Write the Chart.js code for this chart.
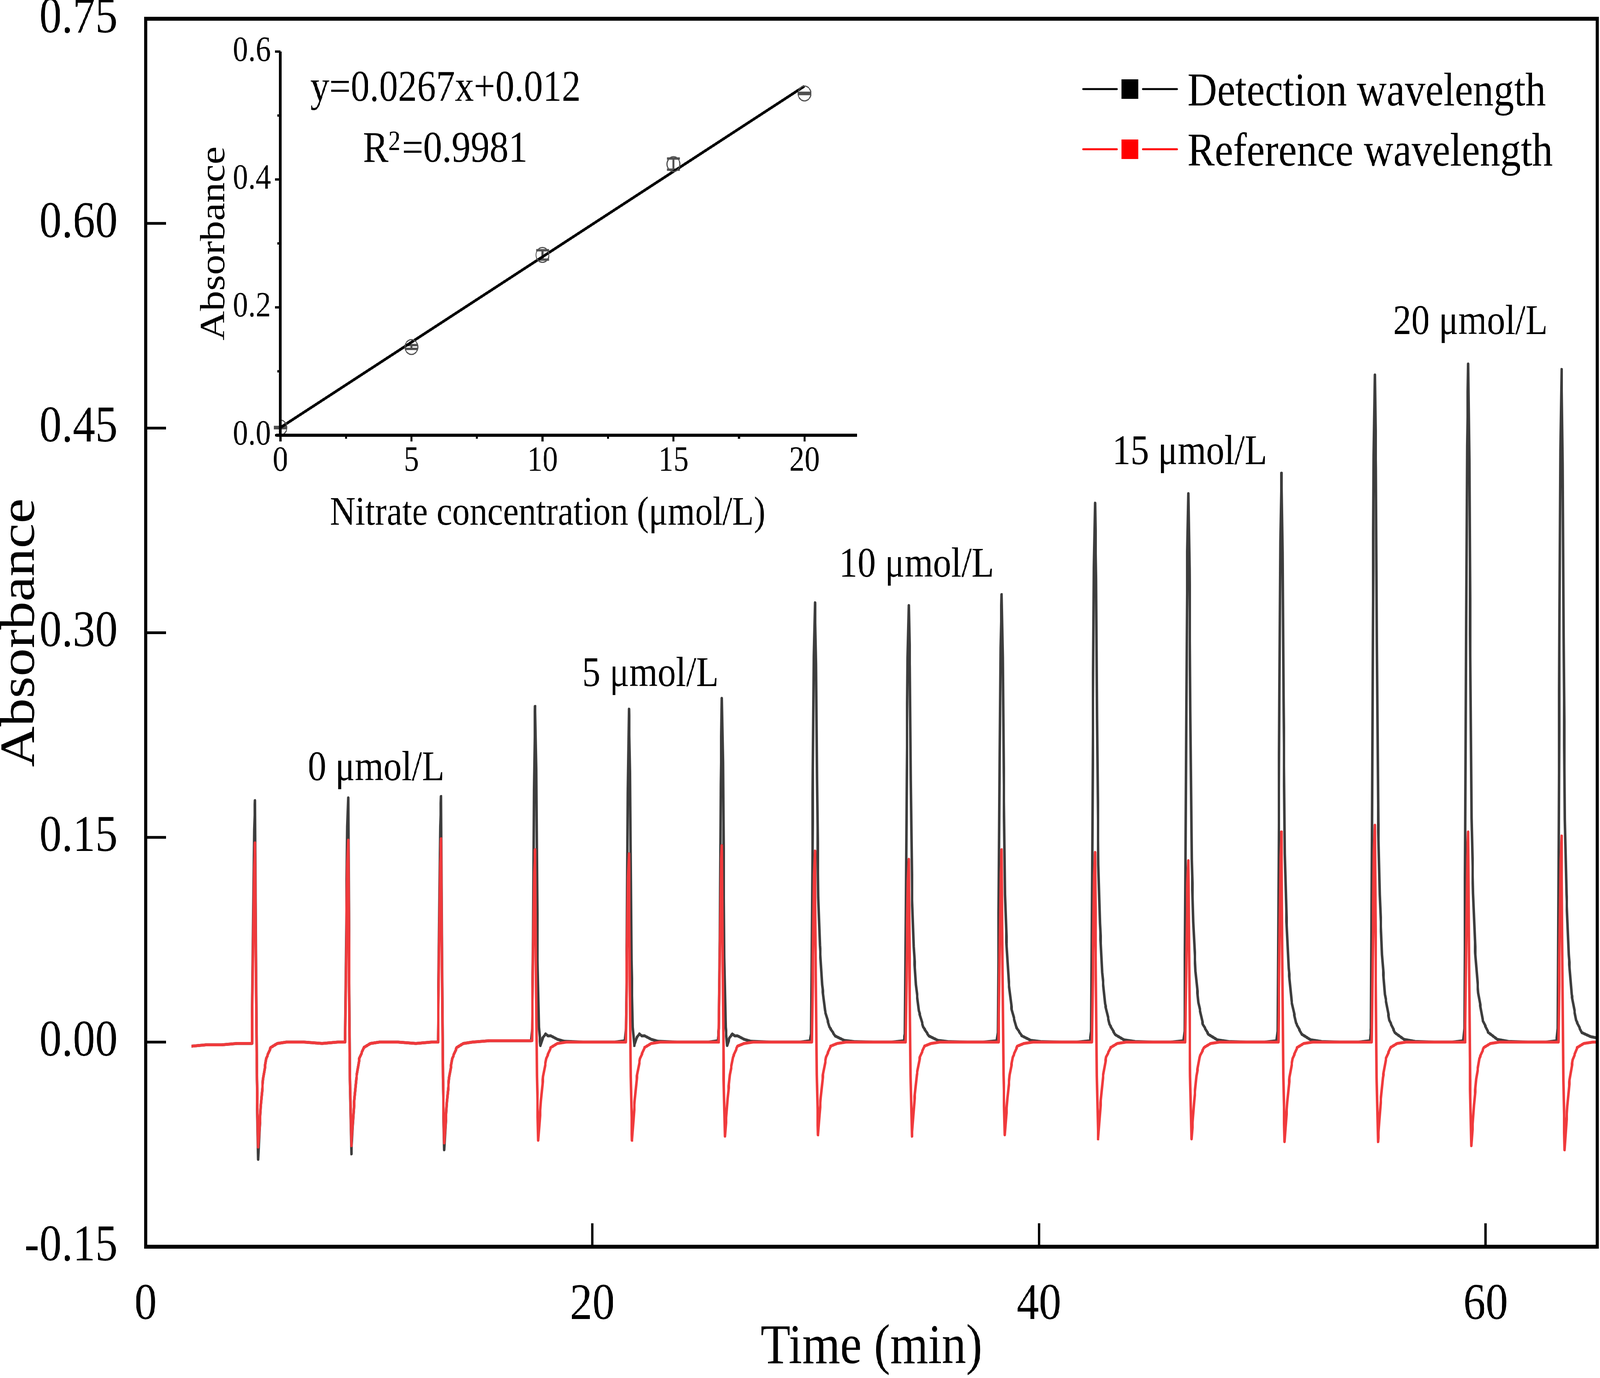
<!DOCTYPE html>
<html>
<head>
<meta charset="utf-8">
<script src="https://cdn.jsdelivr.net/npm/chart.js@4.4.1/dist/chart.umd.min.js"></script>
<style>
  html, body { margin: 0; padding: 0; background: #fff; overflow: hidden; }
  #wrap { position: relative; width: 4724px; height: 3527px; transform-origin: 0 0; }
  #main, #inset { position: absolute; left: 0; top: 0; }
</style>
</head>
<body>
<div id="wrap">
  <canvas id="main" width="4724" height="3527"></canvas>
  <canvas id="inset" width="2600" height="1420"></canvas>
</div>
<script>
// time trace at the detection wavelength, [min, absorbance]
const detection = [
  [2.05,-0.003],[2.7,-0.002],[3.4,-0.002],[4.1,-0.001],
  [4.76,-0.001],[4.82,0.096],[4.86,0.156],[4.90,0.177],[4.94,0.062],[4.98,-0.028],[5.04,-0.086],[5.10,-0.063],[5.16,-0.046],[5.26,-0.027],[5.40,-0.012],[5.60,-0.004],[5.90,-0.001],[6.30,0.000],
  [7.1,0.000],[7.9,-0.001],[8.6,0.000],
  [8.93,0.000],[8.99,0.097],[9.03,0.158],[9.07,0.179],[9.11,0.063],[9.15,-0.028],[9.21,-0.082],[9.27,-0.062],[9.33,-0.046],[9.43,-0.027],[9.57,-0.012],[9.77,-0.004],[10.07,-0.001],[10.47,0.000],
  [11.3,0.000],[12.1,-0.001],[12.8,0.000],
  [13.09,0.000],[13.15,0.097],[13.19,0.158],[13.23,0.180],[13.27,0.063],[13.31,-0.027],[13.37,-0.079],[13.43,-0.060],[13.49,-0.044],[13.59,-0.026],[13.73,-0.012],[13.93,-0.004],[14.23,-0.001],[14.63,0.000],
  [15.4,0.001],[16.2,0.001],[16.9,0.001],
  [17.26,0.001],[17.31,0.010],[17.35,0.074],[17.39,0.185],[17.44,0.246],[17.49,0.200],[17.55,0.060],[17.61,0.011],[17.68,-0.0026],[17.78,0.003],[17.91,0.006],[18.02,0.0045],[18.14,0.0046],[18.44,0.002],[18.74,0.0006],
  [19.6,0.000],[20.4,0.000],[21.0,0.000],
  [21.46,0.001],[21.51,0.010],[21.55,0.073],[21.59,0.183],[21.64,0.244],[21.69,0.198],[21.75,0.060],[21.81,0.011],[21.88,-0.0026],[21.98,0.003],[22.11,0.006],[22.22,0.0045],[22.34,0.0046],[22.64,0.002],[22.94,0.0006],
  [23.8,0.000],[24.5,0.000],[25.2,0.000],
  [25.62,0.001],[25.67,0.010],[25.71,0.076],[25.75,0.189],[25.80,0.252],[25.85,0.205],[25.91,0.062],[25.97,0.011],[26.04,-0.0026],[26.14,0.003],[26.27,0.006],[26.38,0.0045],[26.50,0.0046],[26.80,0.002],[27.10,0.0006],
  [28.0,0.000],[28.7,0.000],[29.3,0.000],
  [29.75,0.001],[29.80,0.006],[29.84,0.097],[29.88,0.200],[29.92,0.283],[29.97,0.322],[30.02,0.277],[30.06,0.193],[30.12,0.106],[30.19,0.071],[30.29,0.042],[30.42,0.023],[30.62,0.011],[30.87,0.0045],[31.27,0.0013],[31.77,0.0003],
  [32.6,0.000],[33.4,0.000],
  [33.95,0.001],[34.00,0.006],[34.04,0.096],[34.08,0.198],[34.12,0.282],[34.17,0.320],[34.22,0.275],[34.26,0.192],[34.32,0.106],[34.39,0.070],[34.49,0.042],[34.62,0.023],[34.82,0.011],[35.07,0.0045],[35.47,0.0013],[35.97,0.0003],
  [36.8,0.000],[37.5,0.000],
  [38.11,0.001],[38.16,0.007],[38.20,0.098],[38.24,0.203],[38.28,0.289],[38.33,0.328],[38.38,0.282],[38.42,0.197],[38.48,0.108],[38.55,0.072],[38.65,0.043],[38.78,0.024],[38.98,0.011],[39.23,0.0046],[39.63,0.0013],[40.13,0.0003],
  [41.0,0.000],[41.7,0.000],
  [42.29,0.001],[42.34,0.008],[42.38,0.119],[42.42,0.245],[42.46,0.348],[42.51,0.395],[42.56,0.340],[42.60,0.237],[42.66,0.130],[42.73,0.087],[42.83,0.051],[42.96,0.028],[43.16,0.013],[43.41,0.0055],[43.81,0.0016],[44.31,0.0004],
  [45.1,0.000],[45.9,0.000],
  [46.47,0.001],[46.52,0.008],[46.56,0.121],[46.60,0.249],[46.64,0.354],[46.69,0.402],[46.74,0.346],[46.78,0.241],[46.84,0.133],[46.91,0.088],[47.01,0.052],[47.14,0.029],[47.34,0.013],[47.59,0.0056],[47.99,0.0016],[48.49,0.0004],
  [49.3,0.000],[50.1,0.000],
  [50.64,0.001],[50.69,0.008],[50.73,0.125],[50.77,0.259],[50.81,0.367],[50.86,0.417],[50.91,0.359],[50.95,0.250],[51.01,0.138],[51.08,0.092],[51.18,0.054],[51.31,0.030],[51.51,0.014],[51.76,0.0058],[52.16,0.0017],[52.66,0.0004],
  [53.5,0.000],[54.3,0.000],
  [54.82,0.001],[54.87,0.010],[54.91,0.147],[54.95,0.303],[54.99,0.430],[55.04,0.489],[55.09,0.421],[55.13,0.293],[55.19,0.161],[55.26,0.108],[55.36,0.064],[55.49,0.035],[55.69,0.016],[55.94,0.0068],[56.34,0.002],[56.84,0.0005],
  [57.7,0.000],[58.5,0.000],
  [59.00,0.001],[59.05,0.010],[59.09,0.149],[59.13,0.308],[59.17,0.437],[59.22,0.497],[59.27,0.427],[59.31,0.298],[59.37,0.164],[59.44,0.109],[59.54,0.065],[59.67,0.036],[59.87,0.016],[60.12,0.007],[60.52,0.002],[61.02,0.0005],
  [61.9,0.000],[62.7,0.000],
  [63.18,0.001],[63.23,0.010],[63.27,0.148],[63.31,0.306],[63.35,0.434],[63.40,0.493],[63.45,0.424],[63.49,0.296],[63.55,0.163],[63.62,0.108],[63.72,0.064],[63.85,0.035],[64.05,0.016],[64.30,0.007],[64.70,0.004],[65.0,0.003]
];

// time trace at the reference wavelength
const reference = [
  [2.05,-0.003],[2.7,-0.002],[3.4,-0.002],[4.1,-0.001],
  [4.76,-0.001],[4.82,0.079],[4.86,0.128],[4.90,0.146],[4.94,0.051],[4.98,-0.027],[5.04,-0.077],[5.10,-0.062],[5.16,-0.046],[5.26,-0.027],[5.40,-0.012],[5.60,-0.004],[5.90,-0.001],[6.30,0.000],
  [7.1,0.000],[7.9,-0.001],[8.6,0.000],
  [8.93,0.000],[8.99,0.080],[9.03,0.130],[9.07,0.148],[9.11,0.052],[9.15,-0.027],[9.21,-0.076],[9.27,-0.061],[9.33,-0.046],[9.43,-0.027],[9.57,-0.012],[9.77,-0.004],[10.07,-0.001],[10.47,0.000],
  [11.3,0.000],[12.1,-0.001],[12.8,0.000],
  [13.09,0.000],[13.15,0.080],[13.19,0.131],[13.23,0.149],[13.27,0.052],[13.31,-0.026],[13.37,-0.074],[13.43,-0.059],[13.49,-0.044],[13.59,-0.026],[13.73,-0.012],[13.93,-0.004],[14.23,-0.001],[14.63,0.000],
  [15.4,0.001],[16.2,0.001],[16.9,0.001],
  [17.30,0.001],[17.36,0.076],[17.40,0.124],[17.44,0.141],[17.48,0.049],[17.52,-0.025],[17.58,-0.072],[17.64,-0.058],[17.70,-0.043],[17.80,-0.025],[17.94,-0.012],[18.14,-0.004],[18.44,-0.001],[18.84,0.000],
  [19.6,0.000],[20.3,0.000],[21.0,0.000],
  [21.50,0.000],[21.56,0.075],[21.60,0.121],[21.64,0.138],[21.68,0.048],[21.72,-0.025],[21.78,-0.072],[21.84,-0.058],[21.90,-0.043],[22.00,-0.025],[22.14,-0.012],[22.34,-0.004],[22.64,-0.001],[23.04,0.000],
  [23.8,0.000],[24.5,0.000],[25.2,0.000],
  [25.66,0.000],[25.72,0.078],[25.76,0.127],[25.80,0.144],[25.84,0.050],[25.88,-0.024],[25.94,-0.069],[26.00,-0.055],[26.06,-0.041],[26.16,-0.024],[26.30,-0.011],[26.50,-0.003],[26.80,-0.001],[27.20,0.000],
  [28.0,0.000],[28.7,0.000],[29.4,0.000],
  [29.83,0.000],[29.89,0.076],[29.93,0.123],[29.97,0.140],[30.01,0.049],[30.05,-0.024],[30.11,-0.068],[30.17,-0.054],[30.23,-0.041],[30.33,-0.024],[30.47,-0.011],[30.67,-0.003],[30.97,-0.001],[31.37,0.000],
  [32.2,0.000],[32.9,0.000],[33.6,0.000],
  [34.03,0.000],[34.09,0.072],[34.13,0.118],[34.17,0.134],[34.21,0.047],[34.25,-0.024],[34.31,-0.069],[34.37,-0.055],[34.43,-0.041],[34.53,-0.024],[34.67,-0.011],[34.87,-0.003],[35.17,-0.001],[35.57,0.000],
  [36.4,0.000],[37.1,0.000],[37.8,0.000],
  [38.19,0.000],[38.25,0.076],[38.29,0.124],[38.33,0.141],[38.37,0.049],[38.41,-0.024],[38.47,-0.068],[38.53,-0.054],[38.59,-0.041],[38.69,-0.024],[38.83,-0.011],[39.03,-0.003],[39.33,-0.001],[39.73,0.000],
  [40.6,0.000],[41.3,0.000],[42.0,0.000],
  [42.37,0.000],[42.43,0.075],[42.47,0.122],[42.51,0.139],[42.55,0.049],[42.59,-0.025],[42.65,-0.071],[42.71,-0.057],[42.77,-0.043],[42.87,-0.025],[43.01,-0.011],[43.21,-0.004],[43.51,-0.001],[43.91,0.000],
  [44.8,0.000],[45.5,0.000],[46.2,0.000],
  [46.55,0.000],[46.61,0.072],[46.65,0.117],[46.69,0.133],[46.73,0.047],[46.77,-0.025],[46.83,-0.071],[46.89,-0.057],[46.95,-0.043],[47.05,-0.025],[47.19,-0.011],[47.39,-0.004],[47.69,-0.001],[48.09,0.000],
  [48.9,0.000],[49.6,0.000],[50.3,0.000],
  [50.72,0.000],[50.78,0.083],[50.82,0.136],[50.86,0.154],[50.90,0.054],[50.94,-0.026],[51.00,-0.073],[51.06,-0.058],[51.12,-0.044],[51.22,-0.026],[51.36,-0.012],[51.56,-0.004],[51.86,-0.001],[52.26,0.000],
  [53.1,0.000],[53.8,0.000],[54.5,0.000],
  [54.90,0.000],[54.96,0.086],[55.00,0.140],[55.04,0.159],[55.08,0.056],[55.12,-0.026],[55.18,-0.073],[55.24,-0.058],[55.30,-0.044],[55.40,-0.026],[55.54,-0.012],[55.74,-0.004],[56.04,-0.001],[56.44,0.000],
  [57.3,0.000],[58.0,0.000],[58.7,0.000],
  [59.08,0.000],[59.14,0.083],[59.18,0.136],[59.22,0.154],[59.26,0.054],[59.30,-0.027],[59.36,-0.076],[59.42,-0.061],[59.48,-0.046],[59.58,-0.027],[59.72,-0.012],[59.92,-0.004],[60.22,-0.001],[60.62,0.000],
  [61.5,0.000],[62.2,0.000],[62.9,0.000],
  [63.26,0.000],[63.32,0.082],[63.36,0.133],[63.40,0.151],[63.44,0.053],[63.48,-0.028],[63.54,-0.079],[63.60,-0.063],[63.66,-0.047],[63.76,-0.028],[63.90,-0.013],[64.10,-0.004],[64.40,-0.001],[64.80,0.000],[65.0,0.000]
];

const timeTicks = [0, 20, 40, 60];
const absTicks = [-0.15, 0, 0.15, 0.30, 0.45, 0.60, 0.75];

// concentration labels over the peak groups, anchored in data units
const groupLabels = ['0 \u03bcmol/L', '5 \u03bcmol/L', '10 \u03bcmol/L', '15 \u03bcmol/L', '20 \u03bcmol/L'];
const groupLabelTime = [10.32, 22.6, 34.52, 46.75, 59.32];
const groupLabelAbs = [0.192, 0.261, 0.341, 0.4235, 0.519];

// calibration inset
const concentration = [0, 5, 10, 15, 20];
const calAbs = [0.012, 0.138, 0.282, 0.424, 0.5345];
const calErr = [0.001, 0.003, 0.0073, 0.0087, 0.001];
const fitConc = [0, 20];
const fitAbs = [0.012, 0.546];
const concTicks = [0, 5, 10, 15, 20];
const concMinor = [2.5, 7.5, 12.5, 17.5];
const calTicks = [0, 0.2, 0.4, 0.6];
const calMinor = [0.1, 0.3, 0.5];

// the drawing is laid out on a 4724 x 3527 sheet; fit it to the window
const wrap = document.getElementById('wrap');
wrap.style.transform = 'scale(' + (window.innerWidth / 4724) + ',' + (window.innerHeight / 3527) + ')';

const FONT = '"Liberation Serif", "Times New Roman", serif';
Chart.defaults.font.family = FONT;
Chart.defaults.color = '#000';

function seg(ctx, x1, y1, x2, y2) {
  ctx.beginPath();
  ctx.moveTo(x1, y1);
  ctx.lineTo(x2, y2);
  ctx.stroke();
}

const mainDecor = {
  id: 'mainDecor',
  afterDraw(chart) {
    const { ctx, chartArea: a, scales: { x, y } } = chart;
    ctx.save();
    ctx.strokeStyle = '#000';
    ctx.lineWidth = 7;
    timeTicks.forEach(v => {
      const px = x.getPixelForValue(v);
      seg(ctx, px, a.bottom, px, a.bottom - 60);
    });
    absTicks.forEach(v => {
      const py = y.getPixelForValue(v);
      seg(ctx, a.left, py, a.left + 60, py);
    });
    ctx.lineWidth = 10;
    ctx.strokeRect(a.left, a.top, a.right - a.left, a.bottom - a.top);

    ctx.fillStyle = '#000';
    ctx.font = '108px ' + FONT;
    ctx.textAlign = 'center';
    ctx.textBaseline = 'alphabetic';
    groupLabels.forEach((t, i) => {
      ctx.fillText(t, x.getPixelForValue(groupLabelTime[i]), y.getPixelForValue(groupLabelAbs[i]));
    });

    // legend: line - square - line, then label
    ctx.font = '121px ' + FONT;
    ctx.textAlign = 'left';
    ctx.lineCap = 'round';
    chart.data.datasets.forEach((ds, i) => {
      const cy = a.top + 180 + i * 154;
      const x0 = a.right - 1518;
      ctx.strokeStyle = ds.legendColor;
      ctx.fillStyle = ds.legendColor;
      ctx.lineWidth = 5;
      seg(ctx, x0, cy, x0 + 100, cy);
      seg(ctx, x0 + 176, cy, x0 + 277, cy);
      ctx.fillRect(x0 + 113, cy - 25, 50, 50);
      ctx.fillStyle = '#000';
      ctx.fillText(ds.label, a.right - 1210, cy + 42);
    });
    ctx.restore();
  }
};

new Chart(document.getElementById('main'), {
  type: 'line',
  data: {
    datasets: [
      {
        label: 'Detection wavelength',
        data: detection.map(([t, v]) => ({ x: t, y: v })),
        borderColor: '#3d3d3d',
        legendColor: '#000000',
        borderWidth: 7.5,
        borderJoinStyle: 'round',
        pointRadius: 0,
        tension: 0,
        order: 1
      },
      {
        label: 'Reference wavelength',
        data: reference.map(([t, v]) => ({ x: t, y: v })),
        borderColor: '#f03a3c',
        legendColor: '#ff0000',
        borderWidth: 7.5,
        borderJoinStyle: 'round',
        pointRadius: 0,
        tension: 0,
        order: 0
      }
    ]
  },
  options: {
    responsive: false,
    animation: false,
    devicePixelRatio: 1,
    layout: { padding: { left: 0, right: 8, top: 48, bottom: 0 } },
    plugins: { legend: { display: false }, tooltip: { enabled: false } },
    scales: {
      x: {
        type: 'linear',
        min: 0,
        max: 65,
        afterFit: s => { s.height = 336; },
        afterBuildTicks: s => { s.ticks = timeTicks.map(v => ({ value: v })); },
        border: { display: false },
        grid: { drawOnChartArea: false, drawTicks: true, tickLength: 84, tickColor: 'rgba(0,0,0,0)' },
        ticks: { font: { size: 132, lineHeight: 1 }, padding: 0, maxRotation: 0, autoSkip: false, color: '#000' },
        title: { display: true, text: 'Time (min)', font: { size: 144, lineHeight: 1 }, padding: { top: 0, bottom: 4 }, color: '#000' }
      },
      y: {
        type: 'linear',
        min: -0.15,
        max: 0.75,
        afterFit: s => { s.width = 430; },
        afterBuildTicks: s => { s.ticks = absTicks.map(v => ({ value: v })); },
        border: { display: false },
        grid: { drawOnChartArea: false, drawTicks: true, tickLength: 83, tickColor: 'rgba(0,0,0,0)' },
        ticks: { font: { size: 132, lineHeight: 0.7 }, padding: 0, autoSkip: false, color: '#000', callback: v => v.toFixed(2) },
        title: { display: true, text: 'Absorbance', font: { size: 144, lineHeight: 0.86 }, padding: 0, color: '#000' }
      }
    }
  },
  plugins: [mainDecor]
});

const insetDecor = {
  id: 'insetDecor',
  beforeDatasetsDraw(chart) {
    const { ctx, scales: { x, y } } = chart;
    ctx.save();
    ctx.strokeStyle = '#505050';
    ctx.lineWidth = 6;
    concentration.forEach((c, i) => {
      const px = x.getPixelForValue(c);
      const top = y.getPixelForValue(calAbs[i] + calErr[i]);
      const bot = y.getPixelForValue(calAbs[i] - calErr[i]);
      seg(ctx, px, top, px, bot);
      seg(ctx, px - 19, top, px + 19, top);
      seg(ctx, px - 19, bot, px + 19, bot);
    });
    ctx.restore();
  },
  afterDraw(chart) {
    const { ctx, chartArea: a, scales: { x, y } } = chart;
    ctx.save();
    ctx.strokeStyle = '#000';
    ctx.lineWidth = 8;
    seg(ctx, a.left, y.getPixelForValue(0.6), a.left, a.bottom + 4);
    seg(ctx, a.left - 13, a.bottom, a.right, a.bottom);
    ctx.lineWidth = 6;
    concTicks.forEach(v => { const px = x.getPixelForValue(v); seg(ctx, px, a.bottom, px, a.bottom + 16); });
    concMinor.forEach(v => { const px = x.getPixelForValue(v); seg(ctx, px, a.bottom, px, a.bottom + 9); });
    calTicks.forEach(v => { const py = y.getPixelForValue(v); seg(ctx, a.left, py, a.left - 16, py); });
    calMinor.forEach(v => { const py = y.getPixelForValue(v); seg(ctx, a.left, py, a.left - 9, py); });

    ctx.fillStyle = '#000';
    ctx.font = '104px ' + FONT;
    ctx.textAlign = 'center';
    ctx.textBaseline = 'alphabetic';
    ctx.fillText('Nitrate concentration (\u03bcmol/L)', x.getPixelForValue(10.2), a.bottom + 229);
    ctx.save();
    ctx.translate(a.left - 166, (a.top + a.bottom) / 2);
    ctx.rotate(-Math.PI / 2);
    ctx.fillText('Absorbance', 0, 0);
    ctx.restore();

    ctx.textAlign = 'left';
    ctx.font = '112px ' + FONT;
    ctx.fillText('y=0.0267x+0.012', x.getPixelForValue(1.14), y.getPixelForValue(0.523));
    let rx = x.getPixelForValue(3.15);
    const ry = y.getPixelForValue(0.428);
    ctx.fillText('R', rx, ry);
    rx += ctx.measureText('R').width;
    ctx.font = '72px ' + FONT;
    ctx.fillText('2', rx, ry - 30);
    rx += ctx.measureText('2').width + 4;
    ctx.font = '112px ' + FONT;
    ctx.fillText('=0.9981', rx, ry);
    ctx.restore();
  }
};

new Chart(document.getElementById('inset'), {
  type: 'scatter',
  data: {
    datasets: [
      {
        type: 'line',
        data: fitConc.map((c, i) => ({ x: c, y: fitAbs[i] })),
        borderColor: '#000',
        borderWidth: 7,
        pointRadius: 0,
        order: 1
      },
      {
        data: concentration.map((c, i) => ({ x: c, y: calAbs[i] })),
        pointStyle: 'circle',
        pointRadius: 19,
        borderWidth: 3,
        borderColor: '#505050',
        backgroundColor: 'rgba(0,0,0,0)',
        order: 0
      }
    ]
  },
  options: {
    responsive: false,
    animation: false,
    devicePixelRatio: 1,
    layout: { padding: { left: 0, right: 70, top: 132, bottom: 0 } },
    plugins: { legend: { display: false }, tooltip: { enabled: false } },
    scales: {
      x: {
        type: 'linear',
        min: 0,
        max: 22,
        afterFit: s => { s.height = 306; },
        afterBuildTicks: s => { s.ticks = concTicks.map(v => ({ value: v })); },
        border: { display: false },
        grid: { drawOnChartArea: false, drawTicks: true, tickLength: 22, tickColor: 'rgba(0,0,0,0)' },
        ticks: { font: { size: 90, lineHeight: 1 }, padding: 0, maxRotation: 0, autoSkip: false, color: '#000' }
      },
      y: {
        type: 'linear',
        min: 0,
        max: 0.6,
        afterFit: s => { s.width = 828; },
        afterBuildTicks: s => { s.ticks = calTicks.map(v => ({ value: v })); },
        border: { display: false },
        grid: { drawOnChartArea: false, drawTicks: true, tickLength: 28, tickColor: 'rgba(0,0,0,0)' },
        ticks: { font: { size: 90, lineHeight: 0.7 }, padding: 0, autoSkip: false, color: '#000', callback: v => v.toFixed(1) }
      }
    }
  },
  plugins: [insetDecor]
});
</script>
</body>
</html>
